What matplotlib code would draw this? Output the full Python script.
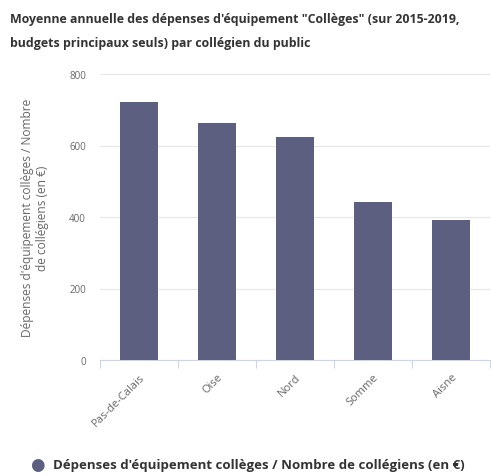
import matplotlib
matplotlib.use("Agg")
import matplotlib.pyplot as plt
import numpy as np

categories = ["Pas-de-Calais", "Oise", "Nord", "Somme", "Aisne"]
values = [722, 662, 624, 442, 392]
yticks = [0, 200, 400, 600, 800]
title = "Moyenne annuelle des dépenses d'équipement \"Collèges\" (sur 2015-2019,\nbudgets principaux seuls) par collégien du public"
ylabel = "Dépenses d'équipement collèges / Nombre\nde collégiens (en €)"
legend_label = "Dépenses d'équipement collèges / Nombre de collégiens (en €)"

bar_color = "#5c5f80"
grid_color = "#e6e6e6"
text_grey = "#666666"

plt.rcParams['font.family'] = ['Open Sans', 'DejaVu Sans']

fig = plt.figure(figsize=(4.91, 4.77), dpi=100)
ax = fig.add_axes([100/491, 1-361/477, 390/491, 286/477])

x = np.arange(len(categories))
ax.bar(x, values, width=0.49, color=bar_color, zorder=3)
ax.set_xlim(-0.5, len(categories)-0.5)
ax.set_ylim(0, 800)
ax.set_yticks(yticks)
ax.set_yticklabels([str(v) for v in yticks], fontsize=7, color=text_grey)
ax.tick_params(axis='y', length=0, pad=10)
ax.yaxis.grid(True, color=grid_color, linewidth=0.8, zorder=0)
ax.set_axisbelow(True)

for s in ['top', 'right', 'left']:
    ax.spines[s].set_visible(False)
ax.spines['bottom'].set_color("#ccd6eb")
ax.spines['bottom'].set_linewidth(0.8)

ax.set_xticks(x)
ax.set_xticklabels(categories, rotation=45, ha='right', rotation_mode='anchor',
                   fontsize=8, color=text_grey)
ax.tick_params(axis='x', length=0, pad=8)
ax.set_xticks(np.arange(-0.5, len(categories)), minor=True)
ax.tick_params(axis='x', which='minor', length=6, color="#ccd6eb", width=0.8)

ax.set_ylabel(ylabel, fontsize=8.6, color=text_grey, linespacing=1.2)
ax.yaxis.set_label_coords(-0.13, 0.5)

fig.text(10/491, 1-13/477, title, fontsize=8.9, fontweight='bold', color="#333333",
         ha='left', va='top', linespacing=2.05)

fig.text(37/491, 1-466/477, "●", fontsize=12, color=bar_color, ha='center', va='center')
fig.text(53/491, 1-466/477, legend_label, fontsize=9.5, fontweight='bold',
         color="#333333", ha='left', va='center')

fig.savefig("out.png", dpi=100)
